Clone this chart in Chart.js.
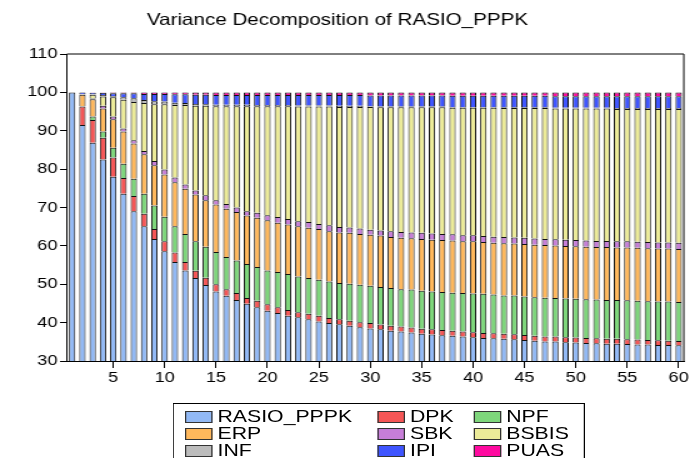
<!DOCTYPE html>
<html>
<head>
<meta charset="utf-8">
<script src="https://cdn.jsdelivr.net/npm/chart.js@4.4.0/dist/chart.umd.min.js"></script>
<style>
  html, body { margin: 0; padding: 0; background: #fff; overflow: hidden; }
  /* the reference is stretched sideways, so draw narrow and stretch */
  #wrap { position: absolute; left: 0; top: 0; width: 552px; height: 458px;
          transform: scaleX(1.25); transform-origin: 0 0; }
  #c { position: absolute; left: 0; top: 0; }
  #legend { position: absolute; left: 138px; top: 403px; width: 330px; height: 62px;
            border: 1px solid #000; box-sizing: border-box;
            font-family: "Liberation Sans", Arial, sans-serif; font-size: 17px; color: #000; }
  .item { position: absolute; display: flex; align-items: center; white-space: nowrap; line-height: 20px; }
  .sw { width: 20px; height: 10px; border: 1px solid #333; margin-right: 4px; }
</style>
</head>
<body>
<div id="wrap">
  <canvas id="c" width="552" height="458"></canvas>
  <div id="legend"></div>
</div>
<script>
const periods = [1,2,3,4,5,6,7,8,9,10,11,12,13,14,15,16,17,18,19,20,
  21,22,23,24,25,26,27,28,29,30,31,32,33,34,35,36,37,38,39,40,
  41,42,43,44,45,46,47,48,49,50,51,52,53,54,55,56,57,58,59,60];

const rasio = [100, 91.5, 86.9, 82.5, 78.0, 73.6, 69.0, 65.1, 61.8, 58.6, 55.8, 53.6, 51.6, 49.8, 48.1, 47.0, 45.9, 44.9, 44.0, 43.1,
  42.5, 41.8, 41.4, 40.9, 40.3, 39.9, 39.6, 39.2, 38.8, 38.5, 38.3, 37.9, 37.7, 37.4, 37.1, 36.9, 36.7, 36.6, 36.4, 36.2,
  36.0, 35.9, 35.8, 35.7, 35.5, 35.3, 35.1, 35.1, 34.9, 34.8, 34.7, 34.6, 34.5, 34.5, 34.4, 34.3, 34.3, 34.2, 34.2, 34.1];
const dpk = [0, 4.8, 5.9, 5.7, 5.0, 4.1, 4.0, 3.3, 2.6, 2.6, 2.5, 2.2, 1.9, 1.9, 1.9, 1.7, 1.8, 1.5, 1.7, 1.7,
  1.5, 1.5, 1.3, 1.4, 1.5, 1.3, 1.3, 1.3, 1.3, 1.4, 1.2, 1.3, 1.3, 1.3, 1.3, 1.4, 1.4, 1.3, 1.3, 1.3,
  1.3, 1.3, 1.3, 1.3, 1.3, 1.3, 1.3, 1.3, 1.3, 1.3, 1.3, 1.3, 1.3, 1.3, 1.3, 1.3, 1.2, 1.2, 1.1, 1.1];
const npf = [0, 0.1, 0.9, 1.6, 2.6, 3.7, 4.5, 5.2, 6.1, 6.4, 6.8, 7.3, 7.7, 8.1, 8.4, 8.4, 8.5, 8.9, 8.8, 8.8,
  9.2, 9.4, 9.3, 9.3, 9.4, 9.5, 9.4, 9.6, 9.8, 9.7, 9.8, 9.8, 9.7, 9.9, 9.9, 9.8, 9.9, 9.9, 10.0, 10.1,
  10.2, 10.1, 10.0, 10.1, 10.0, 10.0, 10.1, 10.0, 10.1, 10.1, 10.1, 10.1, 10.1, 10.1, 10.1, 10.1, 10.1, 10.1, 10.2, 10.2];
const erp = [0, 3.0, 4.5, 6.0, 7.4, 8.4, 9.2, 10.3, 10.5, 11.0, 11.5, 11.8, 12.2, 12.1, 12.4, 12.6, 12.6, 12.6, 12.8, 13.1,
  12.8, 12.9, 13.1, 13.1, 13.2, 13.1, 13.2, 13.3, 13.2, 13.3, 13.4, 13.3, 13.4, 13.4, 13.5, 13.5, 13.5, 13.6, 13.5, 13.6,
  13.5, 13.5, 13.6, 13.5, 13.7, 13.7, 13.7, 13.7, 13.7, 13.7, 13.7, 13.7, 13.8, 13.7, 13.8, 13.8, 13.8, 13.8, 13.8, 13.8];
const sbk = [0, 0.05, 0.2, 0.7, 0.7, 0.8, 0.8, 0.8, 1.1, 1.3, 1.2, 1.1, 1.0, 1.3, 1.1, 1.2, 1.2, 1.1, 1.3, 1.3,
  1.5, 1.4, 1.3, 1.5, 1.3, 1.6, 1.4, 1.4, 1.4, 1.3, 1.3, 1.5, 1.5, 1.5, 1.6, 1.6, 1.6, 1.6, 1.6, 1.6,
  1.6, 1.6, 1.6, 1.6, 1.6, 1.6, 1.6, 1.6, 1.6, 1.6, 1.6, 1.6, 1.6, 1.6, 1.6, 1.6, 1.6, 1.6, 1.6, 1.6];
const bsbis = [0, 0.1, 1.0, 2.4, 5.0, 7.5, 10.0, 12.5, 14.8, 17.0, 18.9, 20.7, 22.1, 23.3, 24.5, 25.5, 26.4, 27.4, 27.8, 28.4,
  28.9, 29.4, 29.9, 30.1, 30.6, 30.9, 31.3, 31.4, 31.7, 32.0, 32.1, 32.3, 32.5, 32.6, 32.7, 32.9, 33.0, 33.0, 33.2, 33.2,
  33.4, 33.6, 33.6, 33.7, 33.8, 34.0, 34.1, 34.1, 34.2, 34.3, 34.4, 34.5, 34.5, 34.5, 34.5, 34.6, 34.7, 34.8, 34.8, 34.9];
const inf = [0, 0.05, 0.1, 0.4, 0.3, 0.6, 1.0, 0.8, 0.8, 0.7, 0.6, 0.5, 0.5, 0.4, 0.4, 0.4, 0.4, 0.4, 0.3, 0.3,
  0.3, 0.3, 0.3, 0.3, 0.3, 0.3, 0.3, 0.3, 0.3, 0.2, 0.2, 0.2, 0.2, 0.2, 0.2, 0.2, 0.2, 0.2, 0.2, 0.2,
  0.2, 0.2, 0.2, 0.2, 0.2, 0.2, 0.2, 0.2, 0.2, 0.2, 0.2, 0.2, 0.2, 0.2, 0.2, 0.2, 0.2, 0.2, 0.2, 0.2];
const ipi = [0, 0.4, 0.4, 0.6, 0.8, 1.1, 1.3, 1.6, 1.9, 2.0, 2.2, 2.3, 2.4, 2.5, 2.5, 2.5, 2.5, 2.5, 2.6, 2.6,
  2.6, 2.6, 2.7, 2.7, 2.7, 2.7, 2.8, 2.8, 2.8, 2.8, 2.9, 2.9, 2.9, 2.9, 2.9, 2.9, 2.9, 2.9, 2.9, 2.9,
  2.9, 2.9, 3.0, 3.0, 3.0, 3.0, 3.0, 3.0, 3.0, 3.0, 3.0, 3.0, 3.0, 3.1, 3.1, 3.1, 3.1, 3.1, 3.1, 3.1];
const puas = [0, 0.0, 0.1, 0.1, 0.2, 0.2, 0.2, 0.4, 0.4, 0.4, 0.5, 0.5, 0.6, 0.6, 0.7, 0.7, 0.7, 0.7, 0.7, 0.7,
  0.7, 0.7, 0.7, 0.7, 0.7, 0.7, 0.7, 0.7, 0.7, 0.8, 0.8, 0.8, 0.8, 0.8, 0.8, 0.8, 0.8, 0.9, 0.9, 0.9,
  0.9, 0.9, 0.9, 0.9, 0.9, 0.9, 0.9, 1.0, 1.0, 1.0, 1.0, 1.0, 1.0, 1.0, 1.0, 1.0, 1.0, 1.0, 1.0, 1.0];

const seriesNames = ["RASIO_PPPK", "DPK", "NPF", "ERP", "SBK", "BSBIS", "INF", "IPI", "PUAS"];
const seriesValues = [rasio, dpk, npf, erp, sbk, bsbis, inf, ipi, puas];
const seriesColors = ["#92b9f5", "#f55656", "#7ed67b", "#ffb85c", "#c77ed8", "#eceb98", "#bcbcbc", "#3f55ff", "#ff0aa0"];

const FONT = '"Liberation Sans", Arial, sans-serif';

// title and top/right frame
const extras = {
  id: "extras",
  afterDraw(chart) {
    const ctx = chart.ctx;
    const a = chart.chartArea;
    ctx.save();
    ctx.strokeStyle = "#000";
    ctx.lineWidth = 1;
    ctx.beginPath();
    ctx.moveTo(a.left, a.top);
    ctx.lineTo(a.right, a.top);
    ctx.lineTo(a.right, a.bottom);
    ctx.stroke();
    ctx.fillStyle = "#000";
    ctx.font = "16.5px " + FONT;
    ctx.textAlign = "center";
    ctx.textBaseline = "alphabetic";
    ctx.fillText("Variance Decomposition of RASIO_PPPK", 270, 25);
    ctx.restore();
  }
};

const datasets = seriesNames.map((name, i) => ({
  label: name,
  data: seriesValues[i],
  backgroundColor: seriesColors[i],
  borderColor: "#111",
  borderWidth: 1,
  categoryPercentage: 1.0,
  barPercentage: 0.62
}));

new Chart(document.getElementById("c"), {
  type: "bar",
  data: { labels: periods, datasets: datasets },
  plugins: [extras],
  options: {
    responsive: false,
    animation: false,
    devicePixelRatio: 1,
    layout: { padding: { top: 54, left: 0, right: 1.6, bottom: 67 } },
    plugins: { legend: { display: false }, tooltip: { enabled: false } },
    scales: {
      x: {
        stacked: true,
        afterFit: s => { s.height = 30; },
        grid: {
          offset: false,
          drawOnChartArea: false,
          tickLength: 7,
          color: c => ((c.index + 1) % 5 === 0 ? "#000" : "rgba(0,0,0,0)")
        },
        border: { display: true, color: "#000" },
        ticks: {
          autoSkip: false,
          maxRotation: 0,
          padding: 1,
          color: "#000",
          font: { family: FONT, size: 14.5 },
          callback: function (v, i) { return (i + 1) % 5 === 0 ? String(periods[i]) : ""; }
        }
      },
      y: {
        stacked: true,
        min: 30,
        max: 110,
        afterFit: s => { s.width = 53.6; },
        grid: { drawOnChartArea: false, tickLength: 5.6, color: "#000" },
        border: { display: true, color: "#000" },
        ticks: {
          stepSize: 10,
          padding: 2,
          color: "#000",
          font: { family: FONT, size: 14.5 }
        }
      }
    }
  }
});

// legend, three columns like the reference
const legend = document.getElementById("legend");
const colX = [9, 163, 240];
const rowY = [2.5, 20, 37];
seriesNames.forEach((name, i) => {
  const item = document.createElement("div");
  item.className = "item";
  item.style.left = colX[i % 3] + "px";
  item.style.top = rowY[Math.floor(i / 3)] + "px";
  const sw = document.createElement("div");
  sw.className = "sw";
  sw.style.background = seriesColors[i];
  const tx = document.createElement("span");
  tx.textContent = name;
  item.appendChild(sw);
  item.appendChild(tx);
  legend.appendChild(item);
});
</script>
</body>
</html>
